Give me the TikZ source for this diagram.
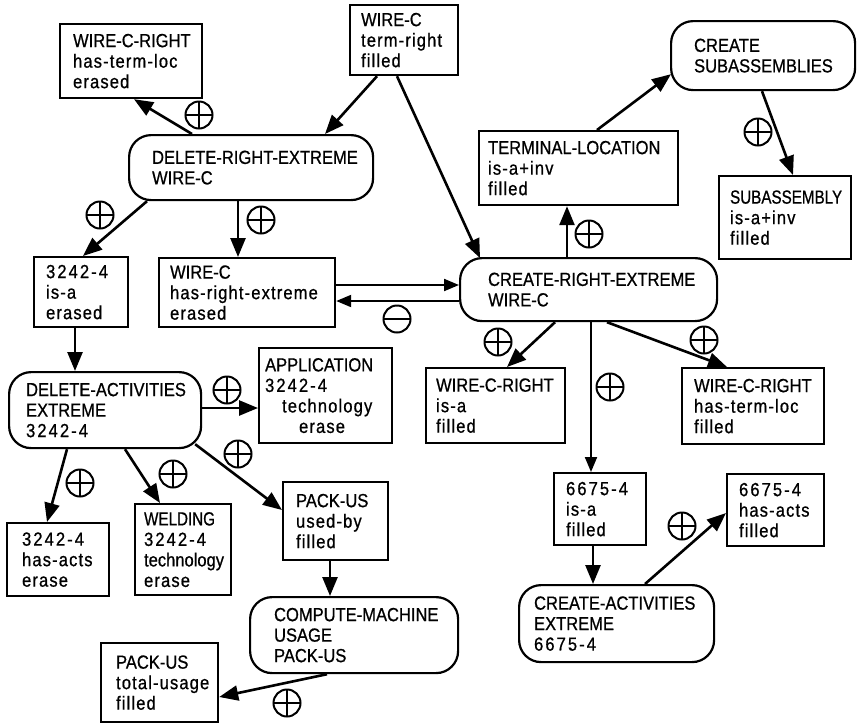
\documentclass[tikz,border=0pt]{standalone}
\usepackage{fontspec}
\setmainfont{Liberation Sans}[FakeStretch=0.87,FakeBold=0.7]
\newfontfamily\lsp{Liberation Sans}[FakeStretch=0.87,FakeBold=0.7,LetterSpace=6]
\newfontfamily\dsp{Liberation Sans}[FakeStretch=0.87,FakeBold=0.7,LetterSpace=11]
\usetikzlibrary{arrows.meta,calc}
\begin{document}
\begin{tikzpicture}[x=1pt,y=-1pt,
  font=\fontsize{19}{20.5}\selectfont,
  rbox/.style n args={3}{draw, line width=2.2pt, anchor=north west, text width=#1pt,
    minimum height=#2pt, inner xsep=#3pt, inner ysep=0pt, align=left,
    execute at begin node={\exhyphenpenalty=10000\hyphenpenalty=10000\hbadness=10000\hfuzz=100pt}},
  obox/.style n args={3}{rbox={#1}{#2}{#3}, rounded corners=22pt},
  arr/.style={line width=2.6pt, -{Triangle[length=19pt,width=15pt]}},
  thinarr/.style={line width=2pt, -{Triangle[length=15pt,width=12pt]}},
  opplus/.style={circle, draw, line width=2pt, minimum size=27pt, inner sep=0pt,
    path picture={\draw[line width=2pt]
      (path picture bounding box.north) -- (path picture bounding box.south)
      (path picture bounding box.west) -- (path picture bounding box.east);}},
  opminus/.style={circle, draw, line width=2pt, minimum size=27pt, inner sep=0pt,
    path picture={\draw[line width=2pt]
      (path picture bounding box.west) -- (path picture bounding box.east);}}]
\fill[white] (0,0) rectangle (862,724);
\useasboundingbox (0,0) rectangle (862,724);

% ---- upper left: deletion of the right extreme
\node[rbox={116}{74}{13}] (wcrErased) at (59,23)
  {WIRE-C-RIGHT\\{\lsp has-term-loc}\\{\lsp erased}};
\node[rbox={86}{70}{11}] (wcTerm) at (349,4)
  {WIRE-C\\{\lsp term-right}\\{\lsp filled}};
\node[obox={198}{65}{23}] (dre) at (128,134)
  {DELETE-RIGHT-EXTREME\\WIRE-C};
\node[rbox={70}{70}{12}] (isaA) at (33,256)
  {{\dsp 3242-4}\\{\lsp is-a}\\{\lsp erased}};
\node[rbox={154}{69}{11}] (wcHre) at (158,257)
  {WIRE-C\\{\lsp has-right-extreme}\\{\lsp erased}};

% ---- upper right: creation of the right extreme
\node[rbox={181}{74}{9}] (termLoc) at (478,130)
  {TERMINAL-LOCATION\\{\lsp is-a+inv}\\{\lsp filled}};
\node[obox={138}{69}{23}] (createSub) at (670,20)
  {CREATE\\SUBASSEMBLIES};
\node[rbox={110}{83}{11}] (subAsm) at (718,175)
  {{\addfontfeature{FakeStretch=0.8}SUBASSEMBLY}\\{\lsp is-a+inv}\\{\lsp filled}};
\node[obox={201}{63}{28}] (cre) at (459,257)
  {CREATE-RIGHT-EXTREME\\WIRE-C};
\node[rbox={119}{75}{10}] (wcrIsa) at (425,367)
  {WIRE-C-RIGHT\\{\lsp is-a}\\{\lsp filled}};
\node[rbox={118}{76}{12}] (wcrTerm) at (681,367)
  {WIRE-C-RIGHT\\{\lsp has-term-loc}\\{\lsp filled}};

% ---- lower left: activities of 3242-4
\node[obox={158}{76}{17}] (dae) at (8,371)
  {DELETE-ACTIVITIES\\EXTREME\\{\dsp 3242-4}};
\node[rbox={121}{95}{6}] (appl) at (258,347)
  {APPLICATION\\{\dsp 3242-4}\\\hspace*{17pt}{\lsp technology}\\\hspace*{34pt}{\lsp erase}};
\node[rbox={78}{91}{9}] (weld) at (134,503)
  {{\addfontfeature{FakeStretch=0.8}WELDING}\\{\dsp 3242-4}\\technology\\{\lsp erase}};
\node[rbox={72}{73}{15}] (actsA) at (6,522)
  {{\dsp 3242-4}\\{\lsp has-acts}\\{\lsp erase}};
\node[rbox={79}{78}{13}] (packUsed) at (282,481)
  {PACK-US\\{\lsp used-by}\\{\lsp filled}};
\node[obox={160}{76}{24}] (compute) at (249,596)
  {COMPUTE-MACHINE\\USAGE\\PACK-US};
\node[rbox={87}{79}{15}] (packTotal) at (100,642)
  {PACK-US\\{\lsp total-usage}\\{\lsp filled}};

% ---- lower right: activities of 6675-4
\node[rbox={68}{72}{12}] (isaB) at (553,472)
  {{\dsp 6675-4}\\{\lsp is-a}\\{\lsp filled}};
\node[rbox={73}{72}{12}] (actsB) at (726,473)
  {{\dsp 6675-4}\\{\lsp has-acts}\\{\lsp filled}};
\node[obox={165}{77}{15}] (cae) at (518,584)
  {CREATE-ACTIVITIES\\EXTREME\\{\dsp 6675-4}};

% ---- connectors
\draw[arr] ($(dre.north west)+(64,0)$) -- ($(wcrErased.south west)+(75,0)$);
\draw[arr] ($(wcTerm.south west)+(28,0)$) -- ($(dre.north west)+(197,0)$);
\draw[arr] ($(wcTerm.south west)+(48,0)$) -- ($(cre.north west)+(21,1)$);
\draw[arr] ($(dre.south west)+(19,0)$) -- ($(isaA.north west)+(50,0)$);
\draw[arr] ($(dre.south west)+(110,0)$) -- ($(wcHre.north west)+(80,0)$);
\draw[thinarr] ($(wcHre.north east)+(0,28)$) -- ($(cre.north west)+(0,28)$);
\draw[thinarr] ($(cre.north west)+(0,44)$) -- ($(wcHre.north east)+(0,44)$);
\draw[arr] ($(cre.north west)+(108,0)$) -- ($(termLoc.south west)+(89,0)$);
\draw[arr] ($(termLoc.north west)+(119,0)$) -- ($(createSub.south west)+(1,-17)$);
\draw[arr] ($(createSub.south west)+(92,0)$) -- ($(subAsm.north west)+(75,0)$);
\draw[arr] ($(isaA.south west)+(42,0)$) -- ($(dae.north west)+(67,0)$);
\draw[arr] ($(dae.north east)+(0,37)$) -- ($(appl.north west)+(0,61)$);
\draw[arr] ($(dae.south west)+(59,0)$) -- ($(actsA.north west)+(41,0)$);
\draw[arr] ($(dae.south west)+(117,0)$) -- ($(weld.north west)+(26,0)$);
\draw[arr] ($(dae.south east)+(-7,-5)$) -- ($(packUsed.north west)+(0,29)$);
\draw[arr] ($(packUsed.south west)+(48,0)$) -- ($(compute.north west)+(81,0)$);
\draw[arr] ($(compute.south west)+(78,0)$) -- ($(packTotal.north east)+(0,55)$);
\draw[arr] ($(cre.south west)+(96,0)$) -- ($(wcrIsa.north west)+(82,0)$);
\draw[thinarr] ($(cre.south west)+(132,0)$) -- ($(isaB.north west)+(38,0)$);
\draw[arr] ($(cre.south west)+(148,0)$) -- ($(wcrTerm.north west)+(46,0)$);
\draw[arr] ($(isaB.south west)+(40,0)$) -- ($(cae.north west)+(75,0)$);
\draw[arr] ($(cae.north west)+(127,0)$) -- ($(actsB.north west)+(0,40)$);

% ---- sign markers on the connectors
\node[opplus] (s1) at (199,115) {};
\node[opplus] (s2) at (100,215) {};
\node[opplus] (s3) at (261,220) {};
\node[opminus] (s4) at (397,319) {};
\node[opplus] (s5) at (589,234) {};
\node[opplus] (s6) at (758,132) {};
\node[opplus] (s7) at (227,390) {};
\node[opplus] (s8) at (80,483) {};
\node[opplus] (s9) at (173,474) {};
\node[opplus] (s10) at (238,454) {};
\node[opplus] (s11) at (287,703) {};
\node[opplus] (s12) at (498,342) {};
\node[opplus] (s13) at (610,387) {};
\node[opplus] (s14) at (704,340) {};
\node[opplus] (s15) at (682,526) {};
\end{tikzpicture}
\end{document}
